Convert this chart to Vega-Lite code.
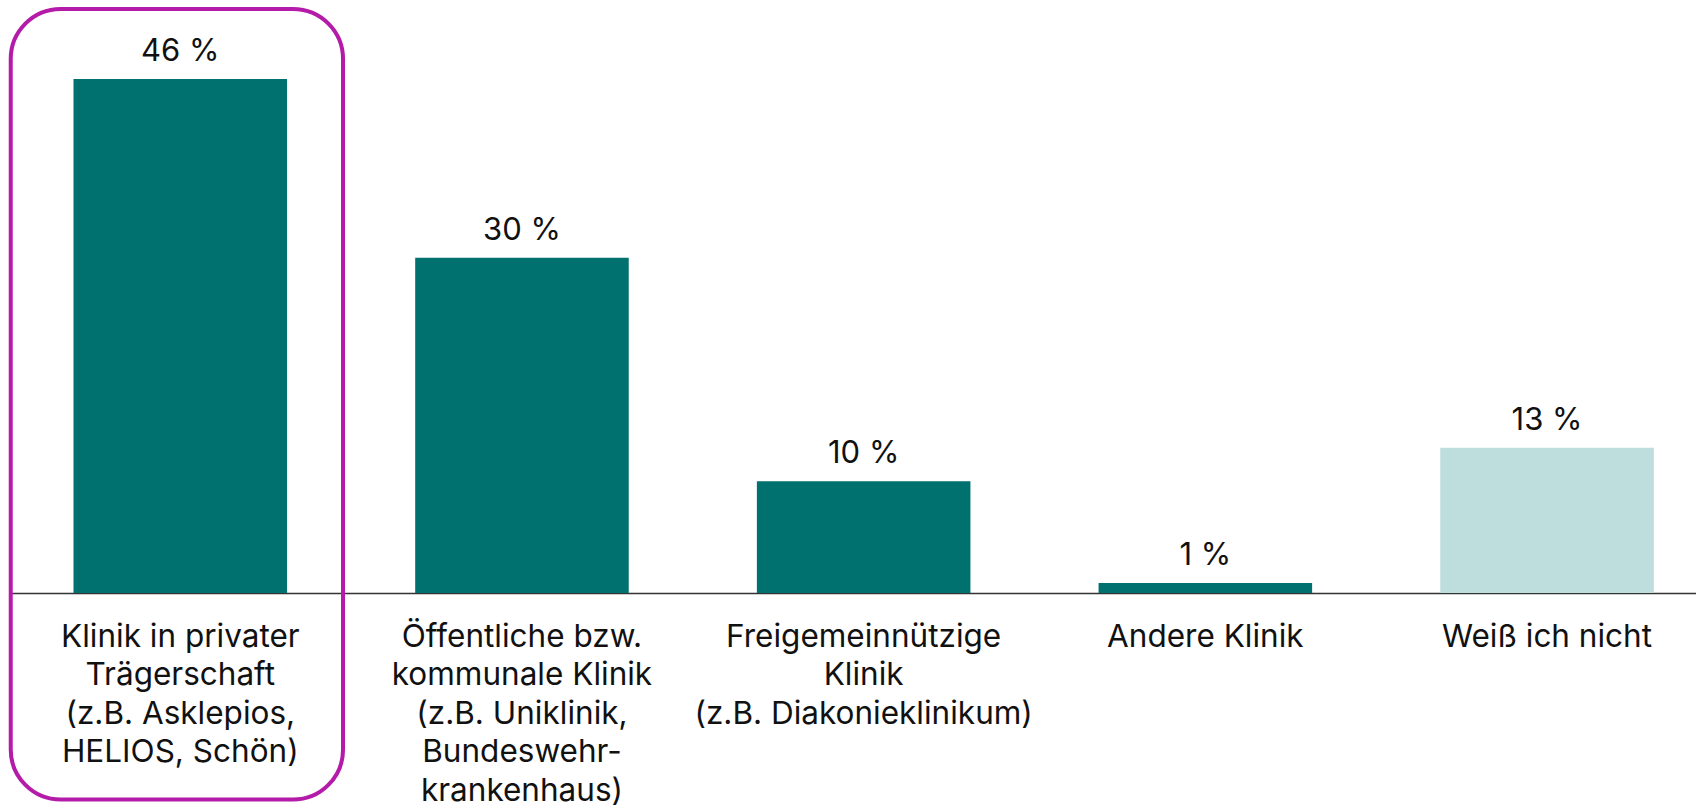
{
  "$schema": "https://vega.github.io/schema/vega-lite/v6.json",
  "width": 1685,
  "height": 593,
  "autosize": {"type": "none"},
  "padding": {"left": 11, "right": 0, "top": 0, "bottom": 213},
  "background": "#ffffff",
  "config": {"view": {"stroke": null}, "font": "Inter"},
  "datasets": {
    "bars": [
      {"cat": "Klinik in privater|Trägerschaft|(z.B. Asklepios,|HELIOS, Schön)", "value": 46, "label": "46 %", "group": "known"},
      {"cat": "Öffentliche bzw.|kommunale Klinik|(z.B. Uniklinik,|Bundeswehr-|krankenhaus)", "value": 30, "label": "30 %", "group": "known"},
      {"cat": "Freigemeinnützige|Klinik|(z.B. Diakonieklinikum)", "value": 10, "label": "10 %", "group": "known"},
      {"cat": "Andere Klinik", "value": 0.9, "label": "1 %", "group": "known"},
      {"cat": "Weiß ich nicht", "value": 13, "label": "13 %", "group": "unknown"}
    ],
    "box": [
      {"cat": "Klinik in privater|Trägerschaft|(z.B. Asklepios,|HELIOS, Schön)", "top": 52.26, "bottom": -18.49}
    ]
  },
  "layer": [
    {
      "data": {"name": "bars"},
      "mark": {"type": "bar"},
      "encoding": {
        "x": {
          "field": "cat", "type": "nominal", "sort": null,
          "scale": {"paddingInner": 0.375, "paddingOuter": 0.1532, "align": 0.597},
          "axis": {
            "title": null, "labelAngle": 0, "ticks": false, "grid": false,
            "domain": true, "domainColor": "#333333", "domainWidth": 1.7,
            "labelExpr": "split(datum.value, '|')",
            "labelFont": "Inter", "labelFontSize": 31.5, "labelColor": "#111111",
            "labelBaseline": "alphabetic", "labelPadding": 53, "labelLineHeight": 38.5,
            "labelLimit": 0, "labelOverlap": false, "labelAlign": "center"
          }
        },
        "y": {
          "field": "value", "type": "quantitative",
          "scale": {"domain": [0, 53.07], "nice": false, "zero": true},
          "axis": null
        },
        "color": {
          "field": "group", "type": "nominal",
          "scale": {"domain": ["known", "unknown"], "range": ["#00716F", "#BEDDDD"]},
          "legend": null
        }
      }
    },
    {
      "data": {"name": "bars"},
      "mark": {"type": "text", "baseline": "alphabetic", "align": "center", "dy": -18, "font": "Inter", "fontSize": 31, "color": "#111111"},
      "encoding": {
        "x": {"field": "cat", "type": "nominal", "sort": null},
        "y": {"field": "value", "type": "quantitative"},
        "text": {"field": "label"}
      }
    },
    {
      "data": {"name": "box"},
      "mark": {"type": "rect", "filled": false, "stroke": "#B41BA8", "strokeWidth": 4, "cornerRadius": 50, "width": {"band": 1.556}, "xOffset": -3.4, "clip": false},
      "encoding": {
        "x": {"field": "cat", "type": "nominal", "sort": null},
        "y": {"field": "top", "type": "quantitative"},
        "y2": {"field": "bottom"}
      }
    }
  ]
}
